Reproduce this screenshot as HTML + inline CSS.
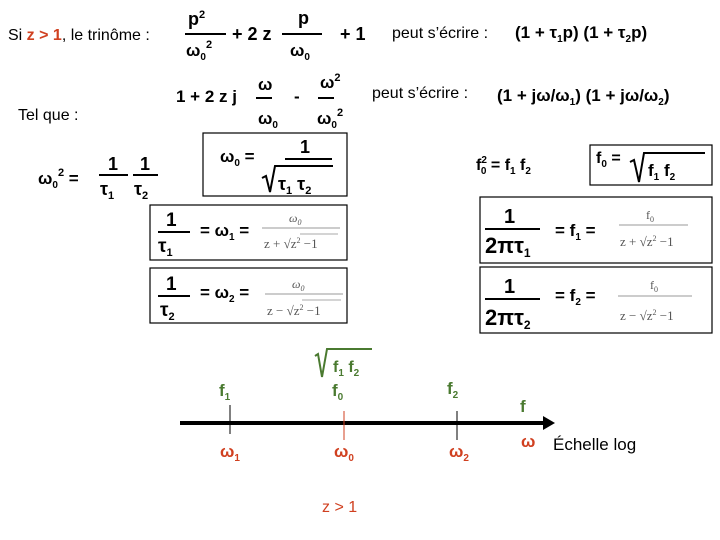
<!DOCTYPE html>
<html><head><meta charset="utf-8"><style>
html,body{margin:0;padding:0;background:#fff;width:720px;height:540px;overflow:hidden}
svg{display:block}
text{font-family:"Liberation Sans",sans-serif;fill:#000}
.b{font-weight:bold}
.s{font-family:"Liberation Serif",serif;fill:#555}
.r{fill:#d04020}
.g{fill:#4a7a30}
</style></head><body>
<svg width="720" height="540" viewBox="0 0 720 540" xmlns="http://www.w3.org/2000/svg">
<!-- line 1 -->
<text x="8" y="40" font-size="16">Si <tspan class="b r">z &gt; 1</tspan>, le trinôme :</text>
<text x="188" y="25" font-size="18" class="b">p<tspan font-size="11" dy="-7">2</tspan></text>
<line x1="185" y1="34" x2="226" y2="34" stroke="#000" stroke-width="2"/>
<text x="186" y="56" font-size="17" class="b">ω<tspan font-size="10" dy="4">0</tspan><tspan font-size="11" dy="-12">2</tspan></text>
<text x="232" y="40" font-size="18" class="b">+ 2 z</text>
<text x="298" y="24" font-size="18" class="b">p</text>
<line x1="282" y1="34" x2="322" y2="34" stroke="#000" stroke-width="2"/>
<text x="290" y="56" font-size="17" class="b">ω<tspan font-size="10" dy="4">0</tspan></text>
<text x="340" y="40" font-size="18" class="b">+ 1</text>
<text x="392" y="38" font-size="16">peut s’écrire :</text>
<text x="515" y="38" font-size="17" class="b">(1 + τ<tspan font-size="10" dy="4">1</tspan><tspan dy="-4">p)  (1 + τ</tspan><tspan font-size="10" dy="4">2</tspan><tspan dy="-4">p)</tspan></text>
<!-- line 2 -->
<text x="176" y="102" font-size="17" class="b">1 + 2 z j</text>
<text x="258" y="90" font-size="17" class="b">ω</text>
<line x1="256" y1="98" x2="272" y2="98" stroke="#000" stroke-width="2"/>
<text x="258" y="124" font-size="17" class="b">ω<tspan font-size="10" dy="4">0</tspan></text>
<text x="294" y="102" font-size="17" class="b">-</text>
<text x="320" y="88" font-size="17" class="b">ω<tspan font-size="11" dy="-7">2</tspan></text>
<line x1="318" y1="98" x2="334" y2="98" stroke="#000" stroke-width="2"/>
<text x="317" y="124" font-size="17" class="b">ω<tspan font-size="10" dy="4">0</tspan><tspan font-size="11" dy="-12">2</tspan></text>
<text x="372" y="98" font-size="16">peut s’écrire :</text>
<text x="497" y="101" font-size="17" class="b">(1 + jω/ω<tspan font-size="10" dy="4">1</tspan><tspan dy="-4">)  (1 + jω/ω</tspan><tspan font-size="10" dy="4">2</tspan><tspan dy="-4">)</tspan></text>
<text x="18" y="120" font-size="16">Tel que :</text>
<!-- omega0^2 -->
<text x="38" y="184" font-size="17" class="b">ω<tspan font-size="10" dy="4">0</tspan><tspan font-size="11" dy="-12">2</tspan><tspan dy="8" font-size="17"> =</tspan></text>
<text x="108" y="170" font-size="18" class="b">1</text>
<line x1="99" y1="175" x2="128" y2="175" stroke="#000" stroke-width="2"/>
<text x="100" y="195" font-size="18" class="b">τ<tspan font-size="11" dy="4">1</tspan></text>
<text x="140" y="170" font-size="18" class="b">1</text>
<line x1="133" y1="175" x2="158" y2="175" stroke="#000" stroke-width="2"/>
<text x="134" y="195" font-size="18" class="b">τ<tspan font-size="11" dy="4">2</tspan></text>
<!-- box1 -->
<rect x="203" y="133" width="144" height="63" fill="none" stroke="#000" stroke-width="1.2"/>
<text x="220" y="162" font-size="17" class="b">ω<tspan font-size="10" dy="4">0</tspan><tspan dy="-4"> =</tspan></text>
<text x="300" y="153" font-size="18" class="b">1</text>
<line x1="285" y1="159" x2="332" y2="159" stroke="#000" stroke-width="2"/>
<polyline points="262,178 266,176 270,192 275,166 333,166" fill="none" stroke="#000" stroke-width="2"/>
<text x="278" y="190" font-size="18" class="b">τ<tspan font-size="11" dy="4">1</tspan><tspan dy="-4"> τ</tspan><tspan font-size="11" dy="4">2</tspan></text>
<!-- f0^2 -->
<text x="476" y="170" font-size="16" class="b">f<tspan font-size="10" dy="-7">2</tspan><tspan font-size="10" dx="-6" dy="11">0</tspan><tspan dy="-4" font-size="16"> = f</tspan><tspan font-size="10" dy="4">1</tspan><tspan font-size="16" dy="-4"> f</tspan><tspan font-size="10" dy="4">2</tspan></text>
<rect x="590" y="145" width="122" height="40" fill="none" stroke="#000" stroke-width="1.2"/>
<text x="596" y="163" font-size="16" class="b">f<tspan font-size="10" dy="4">0</tspan><tspan dy="-4"> =</tspan></text>
<polyline points="630,162 634,160 639,182 644,153 705,153" fill="none" stroke="#000" stroke-width="2"/>
<text x="648" y="176" font-size="17" class="b">f<tspan font-size="10" dy="4">1</tspan><tspan dy="-4"> f</tspan><tspan font-size="10" dy="4">2</tspan></text>
<!-- box3 -->
<rect x="150" y="205" width="197" height="55" fill="none" stroke="#000" stroke-width="1.2"/>
<text x="166" y="226" font-size="19" class="b">1</text>
<line x1="158" y1="232" x2="190" y2="232" stroke="#000" stroke-width="2"/>
<text x="158" y="252" font-size="19" class="b">τ<tspan font-size="11" dy="4">1</tspan></text>
<text x="200" y="236" font-size="17" class="b">= ω<tspan font-size="10" dy="4">1</tspan><tspan dy="-4"> =</tspan></text>
<text x="289" y="222" font-size="12" class="s" font-style="italic">ω<tspan font-size="8" dy="3">0</tspan></text>
<line x1="262" y1="228" x2="340" y2="228" stroke="#999" stroke-width="1"/>
<text x="264" y="248" font-size="13" class="s">z + √z<tspan font-size="8" dy="-5">2</tspan><tspan dy="5"> −1</tspan></text>
<line x1="300" y1="234" x2="338" y2="234" stroke="#aaa" stroke-width="1"/>
<!-- box4 -->
<rect x="150" y="268" width="197" height="55" fill="none" stroke="#000" stroke-width="1.2"/>
<text x="166" y="290" font-size="19" class="b">1</text>
<line x1="158" y1="296" x2="190" y2="296" stroke="#000" stroke-width="2"/>
<text x="160" y="316" font-size="19" class="b">τ<tspan font-size="11" dy="4">2</tspan></text>
<text x="200" y="298" font-size="17" class="b">= ω<tspan font-size="10" dy="4">2</tspan><tspan dy="-4"> =</tspan></text>
<text x="292" y="288" font-size="12" class="s" font-style="italic">ω<tspan font-size="8" dy="3">0</tspan></text>
<line x1="265" y1="294" x2="343" y2="294" stroke="#999" stroke-width="1"/>
<text x="267" y="315" font-size="13" class="s">z − √z<tspan font-size="8" dy="-5">2</tspan><tspan dy="5"> −1</tspan></text>
<line x1="302" y1="300" x2="341" y2="300" stroke="#aaa" stroke-width="1"/>
<!-- right boxes -->
<rect x="480" y="197" width="232" height="66" fill="none" stroke="#000" stroke-width="1.2"/>
<text x="504" y="223" font-size="20" class="b">1</text>
<line x1="485" y1="229" x2="540" y2="229" stroke="#000" stroke-width="2"/>
<text x="485" y="253" font-size="22" class="b">2πτ<tspan font-size="12" dy="4">1</tspan></text>
<text x="555" y="236" font-size="17" class="b">= f<tspan font-size="10" dy="4">1</tspan><tspan dy="-4"> =</tspan></text>
<text x="646" y="219" font-size="12" class="s">f<tspan font-size="8" dy="3">0</tspan></text>
<line x1="619" y1="225" x2="688" y2="225" stroke="#999" stroke-width="1"/>
<text x="620" y="246" font-size="13" class="s">z + √z<tspan font-size="8" dy="-5">2</tspan><tspan dy="5"> −1</tspan></text>
<rect x="480" y="267" width="232" height="66" fill="none" stroke="#000" stroke-width="1.2"/>
<text x="504" y="293" font-size="20" class="b">1</text>
<line x1="485" y1="299" x2="540" y2="299" stroke="#000" stroke-width="2"/>
<text x="485" y="325" font-size="22" class="b">2πτ<tspan font-size="12" dy="4">2</tspan></text>
<text x="555" y="301" font-size="17" class="b">= f<tspan font-size="10" dy="4">2</tspan><tspan dy="-4"> =</tspan></text>
<text x="650" y="289" font-size="12" class="s">f<tspan font-size="8" dy="3">0</tspan></text>
<line x1="618" y1="296" x2="692" y2="296" stroke="#999" stroke-width="1"/>
<text x="620" y="320" font-size="13" class="s">z − √z<tspan font-size="8" dy="-5">2</tspan><tspan dy="5"> −1</tspan></text>
<!-- axis -->
<line x1="180" y1="423" x2="545" y2="423" stroke="#000" stroke-width="4"/>
<polygon points="543,416 555,423 543,430" fill="#000"/>
<line x1="230" y1="405" x2="230" y2="434" stroke="#000" stroke-width="1"/>
<line x1="344" y1="411" x2="344" y2="440" stroke="#d04020" stroke-width="1"/>
<line x1="457" y1="411" x2="457" y2="440" stroke="#000" stroke-width="1"/>
<polyline points="315,356 318,354 322,377 327,349 372,349" fill="none" stroke="#4a7a30" stroke-width="2"/>
<text x="333" y="372" font-size="16" class="b g">f<tspan font-size="10" dy="4">1</tspan><tspan dy="-4"> f</tspan><tspan font-size="10" dy="4">2</tspan></text>
<text x="219" y="396" font-size="17" class="b g">f<tspan font-size="10" dy="4">1</tspan></text>
<text x="332" y="396" font-size="17" class="b g">f<tspan font-size="10" dy="4">0</tspan></text>
<text x="447" y="394" font-size="17" class="b g">f<tspan font-size="10" dy="4">2</tspan></text>
<text x="520" y="412" font-size="17" class="b g">f</text>
<text x="220" y="457" font-size="17" class="b r">ω<tspan font-size="10" dy="4">1</tspan></text>
<text x="334" y="457" font-size="17" class="b r">ω<tspan font-size="10" dy="4">0</tspan></text>
<text x="449" y="457" font-size="17" class="b r">ω<tspan font-size="10" dy="4">2</tspan></text>
<text x="521" y="447" font-size="17" class="b r">ω</text>
<text x="553" y="450" font-size="17">Échelle log</text>
<text x="322" y="512" font-size="16" class="r">z &gt; 1</text>
</svg>
</body></html>
